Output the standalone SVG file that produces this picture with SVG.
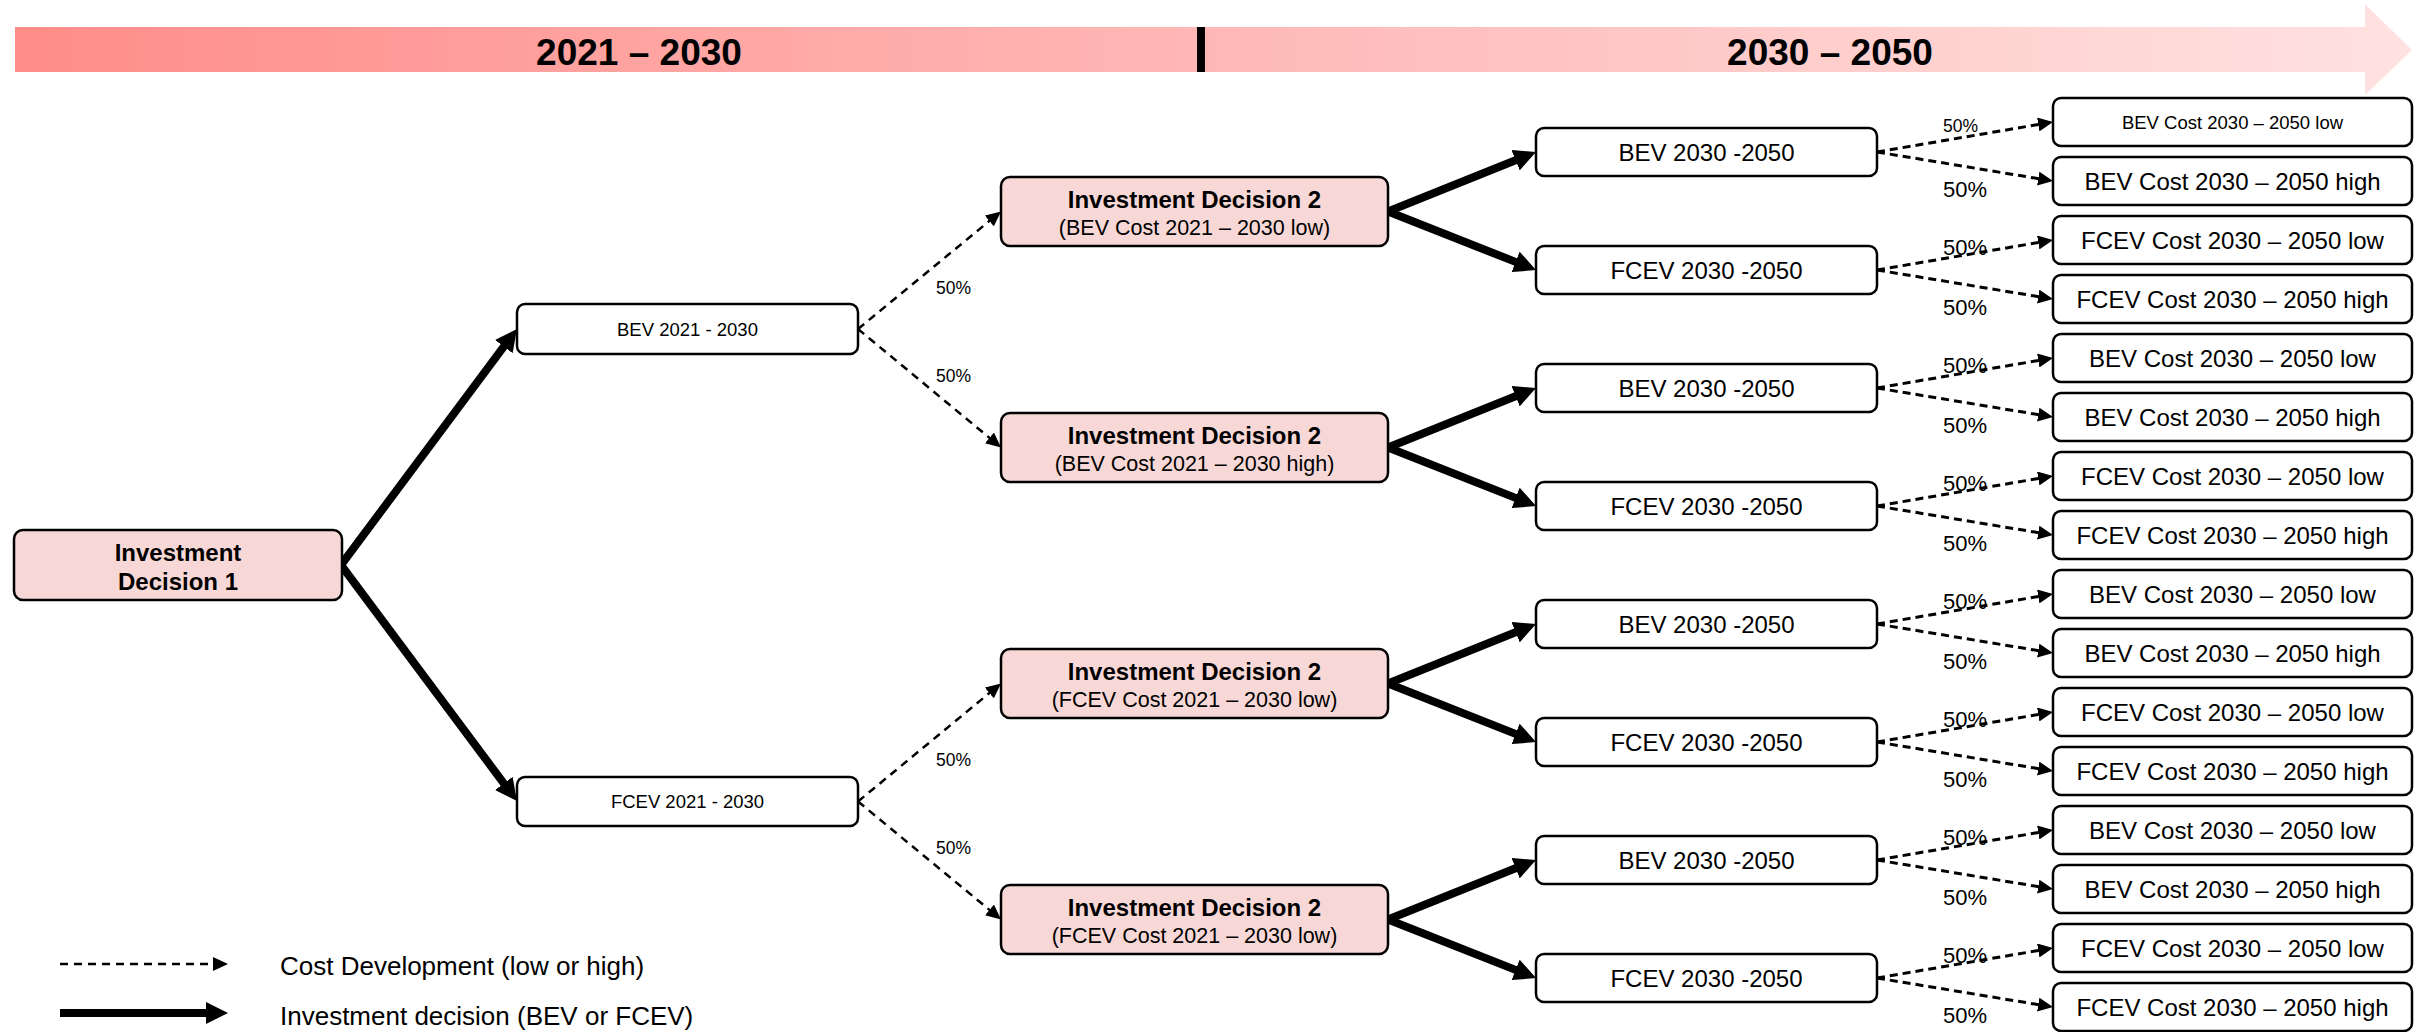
<svg xmlns="http://www.w3.org/2000/svg" width="2420" height="1032" viewBox="0 0 2420 1032">
  <style>
    text { font-family: "Liberation Sans", Arial, sans-serif; fill: #000; }
    .box { fill: #fff; stroke: #000; stroke-width: 2.5; }
    .dec { fill: #F8D8D6; stroke: #000; stroke-width: 2.5; }
    .thick { stroke: #000; stroke-width: 8; fill: none; marker-end: url(#headThick); }
    .dash2 { stroke: #000; stroke-width: 2.5; fill: none; stroke-dasharray: 8 6; marker-end: url(#headDash); }
    .dash3 { stroke: #000; stroke-width: 3; fill: none; stroke-dasharray: 8 5; marker-end: url(#headDash); }
    .era { font-size: 37px; font-weight: bold; text-anchor: middle; }
    .b24 { font-size: 24px; font-weight: bold; text-anchor: middle; }
    .sub { font-size: 21.5px; text-anchor: middle; }
    .n18 { font-size: 18.5px; text-anchor: middle; }
    .n24 { font-size: 24px; text-anchor: middle; }
    .p17 { font-size: 17.5px; }
    .p22 { font-size: 22px; }
    .leg { font-size: 26px; }
  </style>
  <defs>
    <linearGradient id="timeGrad" gradientUnits="userSpaceOnUse" x1="15" y1="0" x2="2412" y2="0">
      <stop offset="0" stop-color="#FF8D89"/>
      <stop offset="0.5" stop-color="#FEB8B7"/>
      <stop offset="1" stop-color="#FFE2E1"/>
    </linearGradient>
    <marker id="headThick" markerUnits="userSpaceOnUse" markerWidth="22" markerHeight="22" refX="4" refY="11" orient="auto">
      <path d="M0,0 L22,11 L0,22 z" fill="#000"/>
    </marker>
    <marker id="headDash" markerUnits="userSpaceOnUse" markerWidth="15" markerHeight="14" refX="3" refY="7" orient="auto">
      <path d="M0,0 L15,7 L0,14 z" fill="#000"/>
    </marker>
  </defs>

  <!-- timeline arrow -->
  <g id="timeline">
    <polygon points="15,27 2365,27 2365,4 2412,50 2365,95 2365,72 15,72" fill="url(#timeGrad)"/>
    <rect x="1197" y="27" width="8" height="45" fill="#000"/>
    <text class="era" x="639" y="65">2021 – 2030</text>
    <text class="era" x="1830" y="65">2030 – 2050</text>
  </g>

  <!-- connectors -->
  <g id="connectors">
    <!-- decision 1 -->
    <path class="thick" d="M341,565 L506.2,343.4"/>
    <path class="thick" d="M341,565 L506.2,786.6"/>
    <!-- cost development 2021-2030 -->
    <path class="dash2" d="M858,329 L991.7,219.1"/>
    <path class="dash2" d="M858,329 L991.8,439.8"/>
    <path class="dash2" d="M858,801.5 L991.7,691.1"/>
    <path class="dash2" d="M858,801.5 L991.8,911.8"/>
    <!-- decision 2 -->
    <path class="thick" d="M1388,211.5 L1519.3,158.7"/>
    <path class="thick" d="M1388,211.5 L1519.3,263.4"/>
    <path class="thick" d="M1388,447.5 L1519.3,394.7"/>
    <path class="thick" d="M1388,447.5 L1519.3,499.4"/>
    <path class="thick" d="M1388,683.5 L1519.3,630.7"/>
    <path class="thick" d="M1388,683.5 L1519.3,735.4"/>
    <path class="thick" d="M1388,919.5 L1519.3,866.7"/>
    <path class="thick" d="M1388,919.5 L1519.3,971.4"/>
    <!-- cost development 2030-2050 -->
    <path class="dash3" d="M1877,152 L2041.2,124"/>
    <path class="dash3" d="M1877,152 L2041.2,179.1"/>
    <path class="dash3" d="M1877,270 L2041.2,242"/>
    <path class="dash3" d="M1877,270 L2041.2,297.1"/>
    <path class="dash3" d="M1877,388 L2041.2,360"/>
    <path class="dash3" d="M1877,388 L2041.2,415.1"/>
    <path class="dash3" d="M1877,506 L2041.2,478"/>
    <path class="dash3" d="M1877,506 L2041.2,533.1"/>
    <path class="dash3" d="M1877,624 L2041.2,596"/>
    <path class="dash3" d="M1877,624 L2041.2,651.1"/>
    <path class="dash3" d="M1877,742 L2041.2,714"/>
    <path class="dash3" d="M1877,742 L2041.2,769.1"/>
    <path class="dash3" d="M1877,860 L2041.2,832"/>
    <path class="dash3" d="M1877,860 L2041.2,887.1"/>
    <path class="dash3" d="M1877,978 L2041.2,950"/>
    <path class="dash3" d="M1877,978 L2041.2,1005.1"/>
    <!-- probability labels -->
    <text class="p17" x="936" y="294">50%</text>
    <text class="p17" x="936" y="382">50%</text>
    <text class="p17" x="936" y="766">50%</text>
    <text class="p17" x="936" y="854">50%</text>
    <text class="p17" x="1943" y="132">50%</text>
    <text class="p22" x="1943" y="197">50%</text>
    <text class="p22" x="1943" y="255">50%</text>
    <text class="p22" x="1943" y="315">50%</text>
    <text class="p22" x="1943" y="373">50%</text>
    <text class="p22" x="1943" y="433">50%</text>
    <text class="p22" x="1943" y="491">50%</text>
    <text class="p22" x="1943" y="551">50%</text>
    <text class="p22" x="1943" y="609">50%</text>
    <text class="p22" x="1943" y="669">50%</text>
    <text class="p22" x="1943" y="727">50%</text>
    <text class="p22" x="1943" y="787">50%</text>
    <text class="p22" x="1943" y="845">50%</text>
    <text class="p22" x="1943" y="905">50%</text>
    <text class="p22" x="1943" y="963">50%</text>
    <text class="p22" x="1943" y="1023">50%</text>
  </g>

  <!-- first decision -->
  <g id="decision1">
    <rect class="dec" x="14" y="530" width="328" height="70" rx="9"/>
    <text class="b24" x="178" y="561">Investment</text>
    <text class="b24" x="178" y="590">Decision 1</text>
  </g>

  <!-- technology 2021-2030 -->
  <g id="bev2021">
    <rect class="box" x="517" y="304" width="341" height="50" rx="8"/>
    <text class="n18" x="687.5" y="335.5">BEV 2021 - 2030</text>
  </g>
  <g id="fcev2021">
    <rect class="box" x="517" y="777" width="341" height="49" rx="8"/>
    <text class="n18" x="687.5" y="808">FCEV 2021 - 2030</text>
  </g>

  <!-- second decisions -->
  <g id="decision2a">
    <rect class="dec" x="1001" y="177" width="387" height="69" rx="9"/>
    <text class="b24" x="1194.5" y="208">Investment Decision 2</text>
    <text class="sub" x="1194.5" y="235">(BEV Cost 2021 – 2030 low)</text>
  </g>
  <g id="decision2b">
    <rect class="dec" x="1001" y="413" width="387" height="69" rx="9"/>
    <text class="b24" x="1194.5" y="444">Investment Decision 2</text>
    <text class="sub" x="1194.5" y="471">(BEV Cost 2021 – 2030 high)</text>
  </g>
  <g id="decision2c">
    <rect class="dec" x="1001" y="649" width="387" height="69" rx="9"/>
    <text class="b24" x="1194.5" y="680">Investment Decision 2</text>
    <text class="sub" x="1194.5" y="707">(FCEV Cost 2021 – 2030 low)</text>
  </g>
  <g id="decision2d">
    <rect class="dec" x="1001" y="885" width="387" height="69" rx="9"/>
    <text class="b24" x="1194.5" y="916">Investment Decision 2</text>
    <text class="sub" x="1194.5" y="943">(FCEV Cost 2021 – 2030 low)</text>
  </g>

  <!-- technology 2030-2050 -->
  <g id="bev2030a"><rect class="box" x="1536" y="128" width="341" height="48" rx="8"/><text class="n24" x="1706.5" y="160.5">BEV 2030 -2050</text></g>
  <g id="fcev2030a"><rect class="box" x="1536" y="246" width="341" height="48" rx="8"/><text class="n24" x="1706.5" y="278.5">FCEV 2030 -2050</text></g>
  <g id="bev2030b"><rect class="box" x="1536" y="364" width="341" height="48" rx="8"/><text class="n24" x="1706.5" y="396.5">BEV 2030 -2050</text></g>
  <g id="fcev2030b"><rect class="box" x="1536" y="482" width="341" height="48" rx="8"/><text class="n24" x="1706.5" y="514.5">FCEV 2030 -2050</text></g>
  <g id="bev2030c"><rect class="box" x="1536" y="600" width="341" height="48" rx="8"/><text class="n24" x="1706.5" y="632.5">BEV 2030 -2050</text></g>
  <g id="fcev2030c"><rect class="box" x="1536" y="718" width="341" height="48" rx="8"/><text class="n24" x="1706.5" y="750.5">FCEV 2030 -2050</text></g>
  <g id="bev2030d"><rect class="box" x="1536" y="836" width="341" height="48" rx="8"/><text class="n24" x="1706.5" y="868.5">BEV 2030 -2050</text></g>
  <g id="fcev2030d"><rect class="box" x="1536" y="954" width="341" height="48" rx="8"/><text class="n24" x="1706.5" y="986.5">FCEV 2030 -2050</text></g>

  <!-- cost outcomes 2030-2050 -->
  <g id="out01"><rect class="box" x="2053" y="98" width="359" height="48" rx="8"/><text class="n18" x="2232.5" y="128.5">BEV Cost 2030 – 2050 low</text></g>
  <g id="out02"><rect class="box" x="2053" y="157" width="359" height="48" rx="8"/><text class="n24" x="2232.5" y="189.5">BEV Cost 2030 – 2050 high</text></g>
  <g id="out03"><rect class="box" x="2053" y="216" width="359" height="48" rx="8"/><text class="n24" x="2232.5" y="248.5">FCEV Cost 2030 – 2050 low</text></g>
  <g id="out04"><rect class="box" x="2053" y="275" width="359" height="48" rx="8"/><text class="n24" x="2232.5" y="307.5">FCEV Cost 2030 – 2050 high</text></g>
  <g id="out05"><rect class="box" x="2053" y="334" width="359" height="48" rx="8"/><text class="n24" x="2232.5" y="366.5">BEV Cost 2030 – 2050 low</text></g>
  <g id="out06"><rect class="box" x="2053" y="393" width="359" height="48" rx="8"/><text class="n24" x="2232.5" y="425.5">BEV Cost 2030 – 2050 high</text></g>
  <g id="out07"><rect class="box" x="2053" y="452" width="359" height="48" rx="8"/><text class="n24" x="2232.5" y="484.5">FCEV Cost 2030 – 2050 low</text></g>
  <g id="out08"><rect class="box" x="2053" y="511" width="359" height="48" rx="8"/><text class="n24" x="2232.5" y="543.5">FCEV Cost 2030 – 2050 high</text></g>
  <g id="out09"><rect class="box" x="2053" y="570" width="359" height="48" rx="8"/><text class="n24" x="2232.5" y="602.5">BEV Cost 2030 – 2050 low</text></g>
  <g id="out10"><rect class="box" x="2053" y="629" width="359" height="48" rx="8"/><text class="n24" x="2232.5" y="661.5">BEV Cost 2030 – 2050 high</text></g>
  <g id="out11"><rect class="box" x="2053" y="688" width="359" height="48" rx="8"/><text class="n24" x="2232.5" y="720.5">FCEV Cost 2030 – 2050 low</text></g>
  <g id="out12"><rect class="box" x="2053" y="747" width="359" height="48" rx="8"/><text class="n24" x="2232.5" y="779.5">FCEV Cost 2030 – 2050 high</text></g>
  <g id="out13"><rect class="box" x="2053" y="806" width="359" height="48" rx="8"/><text class="n24" x="2232.5" y="838.5">BEV Cost 2030 – 2050 low</text></g>
  <g id="out14"><rect class="box" x="2053" y="865" width="359" height="48" rx="8"/><text class="n24" x="2232.5" y="897.5">BEV Cost 2030 – 2050 high</text></g>
  <g id="out15"><rect class="box" x="2053" y="924" width="359" height="48" rx="8"/><text class="n24" x="2232.5" y="956.5">FCEV Cost 2030 – 2050 low</text></g>
  <g id="out16"><rect class="box" x="2053" y="983" width="359" height="48" rx="8"/><text class="n24" x="2232.5" y="1015.5">FCEV Cost 2030 – 2050 high</text></g>

  <!-- legend -->
  <g id="legend">
    <path class="dash2" d="M60,964 L216,964" stroke-dasharray="7 5"/>
    <text class="leg" x="280" y="975">Cost Development (low or high)</text>
    <path class="thick" d="M60,1013 L210,1013"/>
    <text class="leg" x="280" y="1025">Investment decision (BEV or FCEV)</text>
  </g>
</svg>
